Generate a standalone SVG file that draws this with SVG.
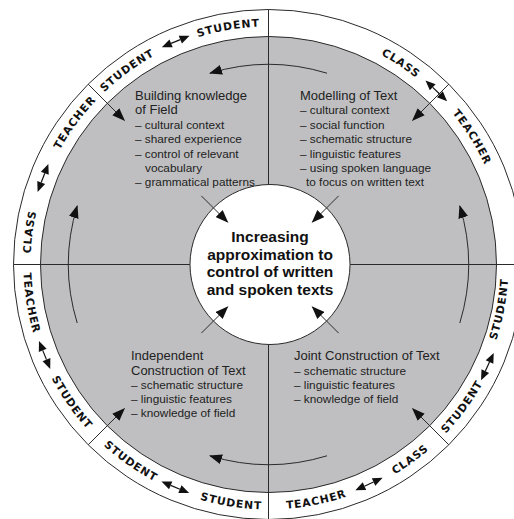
<svg xmlns="http://www.w3.org/2000/svg" xmlns:xlink="http://www.w3.org/1999/xlink" width="514" height="519" viewBox="0 0 514 519">
<style>
.ln{stroke:#2a2a2a;stroke-width:1;fill:none}
.arw{stroke:#2a2a2a;stroke-width:1;fill:none;marker-end:url(#ah)}
.ring{font-family:"DejaVu Sans",sans-serif;font-weight:bold;font-size:10.8px;letter-spacing:0.9px;fill:#111}
.t{font-family:"Liberation Sans",Arial,sans-serif;font-size:13px;fill:#222}
.b{font-size:11.8px}
.c{font-family:"Liberation Sans",Arial,sans-serif;font-weight:bold;font-size:15.5px;fill:#111;text-anchor:middle}
</style>
<defs>
<marker id="ah" viewBox="0 0 13 10" refX="12" refY="5" markerWidth="13" markerHeight="10" markerUnits="userSpaceOnUse" orient="auto">
<path d="M0,0 L13,5 L0,10 z" fill="#111"/>
</marker>
<g id="dbl">
<path d="M-5,0 H5" stroke="#111" stroke-width="1.2"/>
<path d="M-15,0 L-5,-4.2 L-5,4.2 z" fill="#111"/>
<path d="M15,0 L5,-4.2 L5,4.2 z" fill="#111"/>
</g>
<path id="pTop" d="M 30.5 264.5 A 238 238 0 0 1 506.5 264.5"/>
<path id="pBot" d="M 23.5 264.5 A 245 245 0 0 0 513.5 264.5"/>
<path id="pBot2" d="M 28.5 264.5 A 240 240 0 0 0 508.5 264.5"/>
</defs>

<g id="wheel">
<circle cx="268.5" cy="264.5" r="255" fill="#fff" stroke="#2a2a2a" stroke-width="1"/>
<circle cx="268.5" cy="264.5" r="228" fill="#bfbfc1" stroke="#2a2a2a" stroke-width="1"/>
<path class="ln" d="M13.5 264.5 H523.5 M268.5 9.5 V519.5"/>
</g>

<g id="centre">
<circle cx="270" cy="264.5" r="80" fill="#fff" stroke="#2a2a2a" stroke-width="1"/>
<text class="c"><tspan x="270" y="242">Increasing</tspan><tspan x="270" y="259.5">approximation to</tspan><tspan x="270" y="277">control of written</tspan><tspan x="270" y="294.5">and spoken texts</tspan></text>
</g>

<g id="field">
<text class="t"><tspan x="135" y="100">Building knowledge</tspan><tspan x="135" y="114">of Field</tspan></text>
<text class="t b"><tspan x="135" y="129">– cultural context</tspan><tspan x="135" y="143">– shared experience</tspan><tspan x="135" y="158">– control of relevant</tspan><tspan x="145" y="172">vocabulary</tspan><tspan x="135" y="186">– grammatical patterns</tspan></text>
</g>

<g id="modelling">
<text class="t"><tspan x="300" y="100">Modelling of Text</tspan></text>
<text class="t b"><tspan x="300" y="114">– cultural context</tspan><tspan x="300" y="129">– social function</tspan><tspan x="300" y="143">– schematic structure</tspan><tspan x="300" y="158">– linguistic features</tspan><tspan x="300" y="172">– using spoken language</tspan><tspan x="306" y="186">to focus on written text</tspan></text>
</g>

<g id="independent">
<text class="t"><tspan x="131" y="360">Independent</tspan><tspan x="131" y="375">Construction of Text</tspan></text>
<text class="t b"><tspan x="131" y="389">– schematic structure</tspan><tspan x="131" y="403">– linguistic features</tspan><tspan x="131" y="417">– knowledge of field</tspan></text>
</g>

<g id="joint">
<text class="t"><tspan x="294" y="360">Joint Construction of Text</tspan></text>
<text class="t b"><tspan x="294" y="375">– schematic structure</tspan><tspan x="294" y="389">– linguistic features</tspan><tspan x="294" y="403">– knowledge of field</tspan></text>
</g>

<g id="ring-labels">
<text class="ring" text-anchor="middle"><textPath href="#pTop" startOffset="32.4">CLASS</textPath></text>
<text class="ring" text-anchor="middle"><textPath href="#pTop" startOffset="150.4">TEACHER</textPath></text>
<text class="ring" text-anchor="middle"><textPath href="#pTop" startOffset="223.9">STUDENT</textPath></text>
<text class="ring" text-anchor="middle"><textPath href="#pTop" startOffset="333.6">STUDENT</textPath></text>
<text class="ring" text-anchor="middle"><textPath href="#pTop" startOffset="512.2">CLASS</textPath></text>
<text class="ring" text-anchor="middle"><textPath href="#pTop" startOffset="614.4">TEACHER</textPath></text>
<text class="ring" text-anchor="middle"><textPath href="#pBot" startOffset="39.3">TEACHER</textPath></text>
<text class="ring" text-anchor="middle"><textPath href="#pBot" startOffset="149.7">STUDENT</textPath></text>
<text class="ring" text-anchor="middle"><textPath href="#pBot" startOffset="235.2">STUDENT</textPath></text>
<text class="ring" text-anchor="middle"><textPath href="#pBot" startOffset="346.4">STUDENT</textPath></text>
<text class="ring" text-anchor="middle"><textPath href="#pBot" startOffset="433.6">TEACHER</textPath></text>
<text class="ring" text-anchor="middle"><textPath href="#pBot" startOffset="538.4">CLASS</textPath></text>
<text class="ring" text-anchor="middle"><textPath href="#pBot" startOffset="614.0">STUDENT</textPath></text>
<text class="ring" text-anchor="middle"><textPath href="#pBot2" startOffset="707.9">STUDENT</textPath></text>
</g>

<g id="connectors">
<path class="arw" d="M 327.0 73.2 A 200 200 0 0 0 210.0 73.2"/>
<path class="arw" d="M 77.2 323.0 A 200 200 0 0 1 77.2 206.0"/>
<path class="arw" d="M 459.8 323.0 A 200 200 0 0 0 459.8 206.0"/>
<path class="arw" d="M 327.0 455.8 A 200 200 0 0 1 210.0 455.8"/>
<path class="arw" d="M 88.2 84.2 L 124.3 120.3"/>
<path class="arw" d="M 448.8 84.2 L 412.7 120.3"/>
<path class="arw" d="M 448.8 444.8 L 412.7 408.7"/>
<path class="arw" d="M 88.2 444.8 L 124.3 408.7"/>
<path class="arw" d="M 201.4 195.9 L 227.6 222.1"/>
<path class="arw" d="M 338.6 195.9 L 312.4 222.1"/>
<path class="arw" d="M 201.4 333.1 L 227.6 306.9"/>
<path class="arw" d="M 338.6 333.1 L 312.4 306.9"/>
<use href="#dbl" transform="translate(43.0 177.9) rotate(291)"/>
<use href="#dbl" transform="translate(175.7 41.5) rotate(337.4)"/>
<use href="#dbl" transform="translate(436.3 90.8) rotate(44)"/>
<use href="#dbl" transform="translate(44.6 355.0) rotate(248)"/>
<use href="#dbl" transform="translate(175.3 487.3) rotate(202.7)"/>
<use href="#dbl" transform="translate(369.0 484.1) rotate(155.4)"/>
<use href="#dbl" transform="translate(487.4 366.6) rotate(115)"/>
</g>
</svg>
